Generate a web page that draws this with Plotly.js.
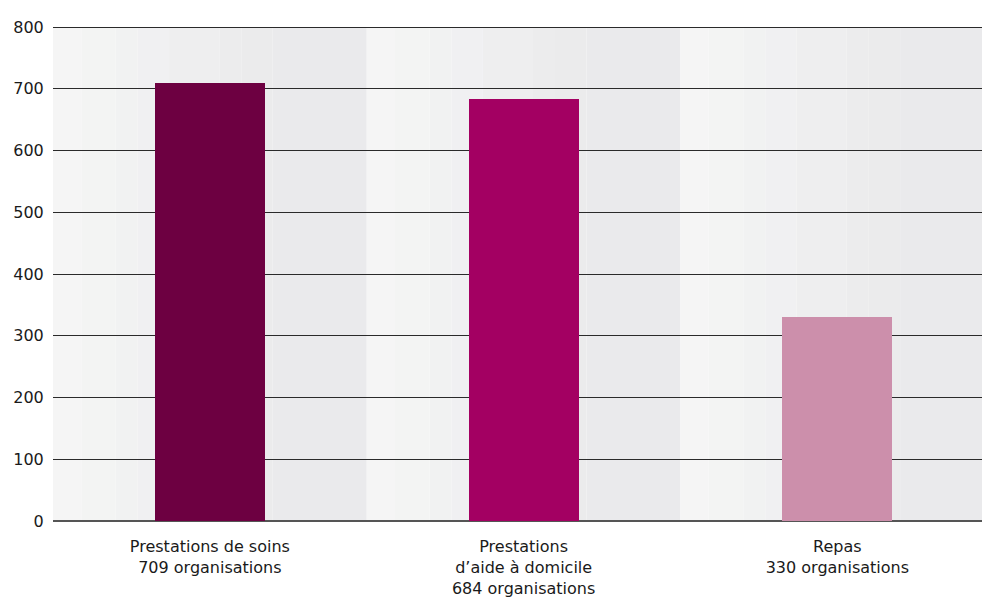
<!DOCTYPE html>
<html>
<head>
<meta charset="utf-8">
<script src="https://cdn.plot.ly/plotly-3.0.1.min.js"></script>
<style>html,body{margin:0;padding:0;background:#fff;overflow:hidden}</style>
</head>
<body>
<div id="chart" style="width:982px;height:599px"></div>
<script>
const categories = [
  "Prestations de soins<br>709 organisations",
  "Prestations<br>d\u2019aide à domicile<br>684 organisations",
  "Repas<br>330 organisations"
];
const values = [709, 684, 330];
const barColors = ["#6d0041", "#a30062", "#cc8fab"];
const yTicks = [0, 100, 200, 300, 400, 500, 600, 700, 800];
const yMax = 800;

// background gradient bands (stepped), per category
const stepColors = ["#f5f5f5", "#f3f4f3", "#f1f2f2", "#f0f0f2", "#eeeeef", "#ececed", "#ebebec", "#eaeaec"];
const stepEdges = [0, 0.09, 0.2, 0.27, 0.37, 0.53, 0.6, 0.7, 1.0];
const shapes = [];
for (let c = 0; c < categories.length; c++) {
  for (let s = 0; s < stepColors.length; s++) {
    shapes.push({
      type: "rect", layer: "below", xref: "x", yref: "paper",
      x0: c - 0.5 + stepEdges[s], x1: c - 0.5 + stepEdges[s + 1],
      y0: 0, y1: 1, fillcolor: stepColors[s], line: {width: 0}
    });
  }
}
// top gridline at the range edge
shapes.push({
  type: "line", layer: "above", xref: "paper", yref: "y",
  x0: 0, x1: 1, y0: yMax, y1: yMax, line: {color: "#2a2a2a", width: 2}
});

const trace = {
  type: "bar",
  x: [0, 1, 2],
  y: values,
  width: 0.35,
  marker: {color: barColors, line: {width: 0}},
  hoverinfo: "skip"
};

const layout = {
  width: 982, height: 599,
  margin: {l: 53, r: 0, t: 27, b: 78},
  paper_bgcolor: "#ffffff",
  plot_bgcolor: "rgba(0,0,0,0)",
  showlegend: false,
  bargap: 0,
  shapes: shapes,
  xaxis: {
    range: [-0.5, 2.461],
    tickmode: "array",
    tickvals: [0, 1, 2],
    ticktext: categories,
    showgrid: false, zeroline: false, showline: false,
    ticks: "outside", ticklen: 11, tickcolor: "rgba(0,0,0,0)",
    tickfont: {family: "DejaVu Sans, Verdana, sans-serif", size: 16, color: "#1a1a1a"},
    fixedrange: true
  },
  yaxis: {
    range: [0, yMax],
    tickmode: "array",
    tickvals: yTicks,
    showgrid: true, gridcolor: "#2a2a2a", gridwidth: 1,
    zeroline: true, zerolinecolor: "#555555", zerolinewidth: 1.5,
    showline: false,
    ticks: "outside", ticklen: 5, tickcolor: "rgba(0,0,0,0)",
    tickfont: {family: "DejaVu Sans, Verdana, sans-serif", size: 16, color: "#1a1a1a"},
    fixedrange: true
  }
};

Plotly.newPlot("chart", [trace], layout, {displayModeBar: false, staticPlot: true});
</script>
</body>
</html>
